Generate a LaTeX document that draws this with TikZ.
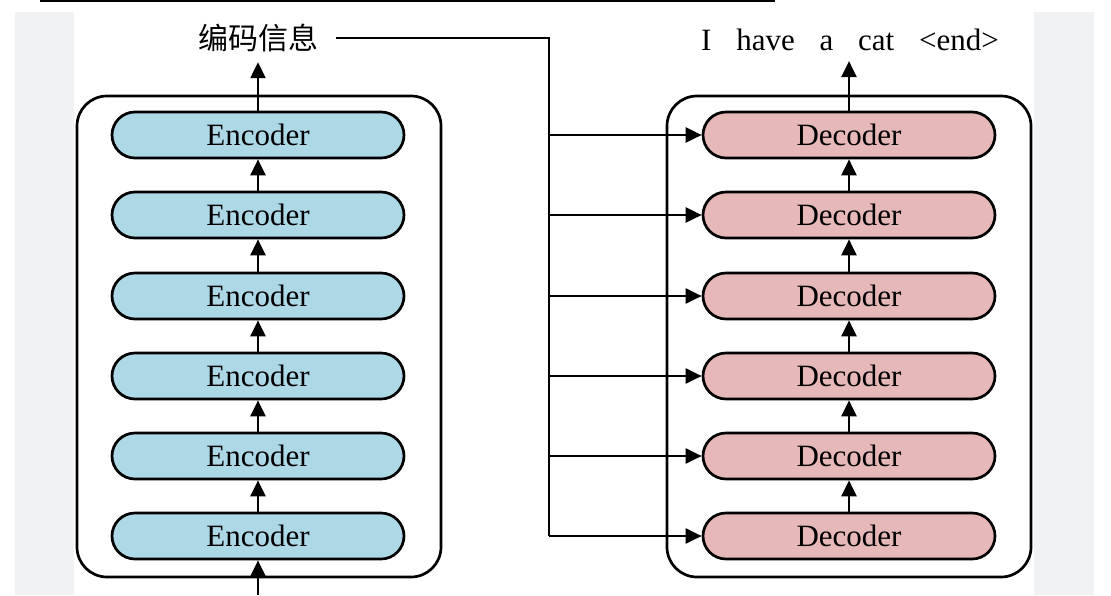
\documentclass[tikz,border=0pt]{standalone}
\usepackage{fontspec}
\setmainfont{Liberation Serif}
\newfontfamily\cjkfont{Noto Sans CJK SC}
\usetikzlibrary{arrows.meta,positioning}
\definecolor{encblue}{RGB}{173,216,230}
\definecolor{decpink}{RGB}{230,184,183}
\definecolor{stripgray}{RGB}{241,242,244}
\tikzset{
    block/.style={draw, line width=2.7pt, rounded corners=23pt, minimum width=292pt,
        minimum height=46pt, inner sep=0pt, font=\fontsize{31}{36}\selectfont},
    encblock/.style={block, fill=encblue},
    decblock/.style={block, fill=decpink},
    frame/.style={draw, line width=2.7pt, rounded corners=30pt},
    link/.style={line width=2.3pt},
    flow/.style={link, -{Triangle[length=16pt,width=15pt]}},
}
\begin{document}
\begin{tikzpicture}[x=1pt,y=-1pt]
    \useasboundingbox (0,0) rectangle (1111,595);
    \fill[stripgray] (15,12) rectangle (74,595);
    \fill[stripgray] (1034,12) rectangle (1094,595);
    \draw[line width=2pt] (40,1) -- (775,1);
    % outer frames
    \draw[frame] (77,96) rectangle (441,577);
    \draw[frame] (667,96) rectangle (1031,577);
    % encoder and decoder stacks
    \foreach \i/\y in {1/536,2/456,3/376,4/296,5/215,6/135} {
        \node[encblock] (enc\i) at (258,\y) {Encoder};
        \node[decblock] (dec\i) at (849,\y) {Decoder};
    }
    \node[font=\cjkfont\fontsize{30}{36}\selectfont, inner sep=2pt] (info) at (258,38) {编码信息};
    \node[font=\fontsize{31}{36}\selectfont, inner sep=2pt] (out) at (850,40)
        {\spaceskip=0.8em I have a cat <end>};
    \coordinate (src) at (258,595);
    \coordinate (split) at (549,38);
    % arrows
    \draw[flow] (src) -- (enc1.south);
    \foreach \i/\j in {1/2,2/3,3/4,4/5,5/6} {
        \draw[flow] (enc\i.north) -- (enc\j.south);
        \draw[flow] (dec\i.north) -- (dec\j.south);
    }
    \draw[flow, shorten >=8pt] (enc6.north) -- (info.south);
    \draw[flow, shorten >=8pt] (dec6.north) -- (out.south -| dec6.north);
    \draw[link] ([xshift=16pt]info.east) -- (split) -- (split |- dec1.west);
    \foreach \i in {1,...,6}
        \draw[flow] (split |- dec\i.west) -- (dec\i.west);
\end{tikzpicture}
\end{document}
